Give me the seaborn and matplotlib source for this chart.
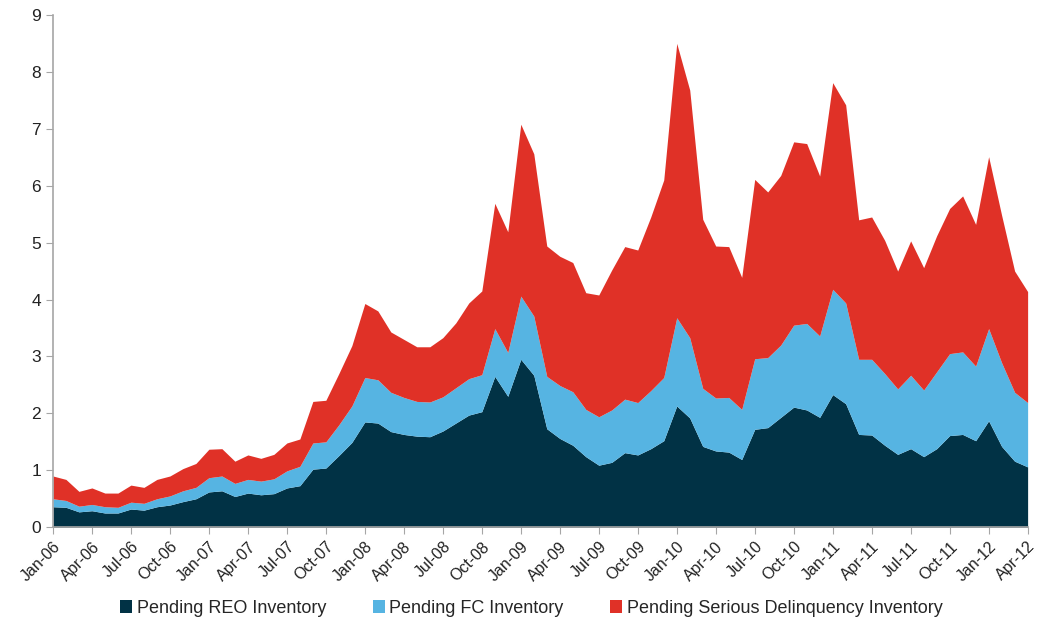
import numpy as np
import pandas as pd
import matplotlib
matplotlib.use("Agg")
import matplotlib.pyplot as plt
import seaborn as sns

# monthly values, Jan-06 .. Apr-12
months = pd.date_range("2006-01-01", "2012-04-01", freq="MS")

reo = [0.36, 0.35, 0.27, 0.29, 0.25, 0.25, 0.32, 0.30, 0.36, 0.39, 0.45, 0.50,
       0.62, 0.64, 0.54, 0.60, 0.57, 0.59, 0.69, 0.73, 1.02, 1.04, 1.26, 1.49,
       1.85, 1.83, 1.68, 1.63, 1.60, 1.59, 1.69, 1.83, 1.97, 2.03, 2.65, 2.30,
       2.95, 2.67, 1.73, 1.56, 1.44, 1.24, 1.09, 1.14, 1.31, 1.27, 1.38, 1.52,
       2.13, 1.92, 1.42, 1.34, 1.32, 1.19, 1.72, 1.75, 1.93, 2.11, 2.06, 1.93,
       2.33, 2.17, 1.63, 1.62, 1.44, 1.28, 1.38, 1.24, 1.38, 1.61, 1.63, 1.52,
       1.87, 1.42, 1.16, 1.06]

fc = [0.14, 0.12, 0.10, 0.11, 0.11, 0.10, 0.12, 0.12, 0.14, 0.16, 0.19, 0.20,
      0.25, 0.26, 0.23, 0.24, 0.24, 0.26, 0.30, 0.34, 0.46, 0.46, 0.54, 0.64,
      0.78, 0.76, 0.69, 0.65, 0.61, 0.61, 0.60, 0.62, 0.64, 0.65, 0.84, 0.77,
      1.11, 1.04, 0.92, 0.93, 0.94, 0.83, 0.85, 0.92, 0.94, 0.92, 1.02, 1.11,
      1.55, 1.41, 1.02, 0.93, 0.96, 0.88, 1.24, 1.23, 1.27, 1.44, 1.52, 1.43,
      1.85, 1.77, 1.32, 1.33, 1.26, 1.15, 1.29, 1.17, 1.35, 1.44, 1.45, 1.31,
      1.62, 1.47, 1.21, 1.13]

sdq = [0.40, 0.37, 0.26, 0.29, 0.24, 0.25, 0.30, 0.28, 0.34, 0.35, 0.39, 0.42,
       0.50, 0.48, 0.39, 0.43, 0.40, 0.43, 0.49, 0.48, 0.73, 0.73, 0.90, 1.06,
       1.30, 1.21, 1.06, 1.02, 0.96, 0.97, 1.04, 1.14, 1.33, 1.47, 2.20, 2.12,
       3.02, 2.85, 2.29, 2.27, 2.27, 2.05, 2.14, 2.46, 2.68, 2.68, 3.05, 3.47,
       4.82, 4.35, 2.97, 2.67, 2.65, 2.32, 3.15, 2.91, 2.98, 3.22, 3.16, 2.81,
       3.63, 3.48, 2.45, 2.50, 2.34, 2.07, 2.36, 2.15, 2.39, 2.55, 2.74, 2.49,
       3.02, 2.59, 2.13, 1.95]

series_names = ["Pending REO Inventory", "Pending FC Inventory",
                "Pending Serious Delinquency Inventory"]
colors = ["#013245", "#56B4E2", "#E03127"]

df = pd.DataFrame({series_names[0]: reo, series_names[1]: fc,
                   series_names[2]: sdq}, index=months)

sns.set_style("white")
plt.rcParams["font.family"] = ["Liberation Sans", "DejaVu Sans"]

fig = plt.figure(figsize=(10.38, 6.21), dpi=100)
ax = fig.add_axes([0.051, 0.151, 0.939, 0.825])

x = np.arange(len(df))
ax.stackplot(x, df.T.values, colors=colors, labels=series_names, linewidth=0)

ax.set_xlim(0, len(df) - 1)
ax.set_ylim(0, 9)
ax.set_yticks(range(0, 10))
tick_idx = np.arange(0, len(df), 3)
ax.set_xticks(tick_idx)
ax.set_xticklabels([months[i].strftime("%b-%y") for i in tick_idx],
                   rotation=45, ha="right", rotation_mode="anchor")

sns.despine(ax=ax)
for s in ["left", "bottom"]:
    ax.spines[s].set_color("#a6a6a6")
    ax.spines[s].set_linewidth(1.2)
ax.tick_params(axis="both", which="major", direction="out", length=5,
               color="#a6a6a6", labelsize=12.5, labelcolor="#222222",
               bottom=True, left=True)
ax.tick_params(axis="x", labelsize=11.5)

handles, labels = ax.get_legend_handles_labels()
fig.legend(handles, labels, loc="lower center", ncol=3, frameon=False,
           fontsize=13, bbox_to_anchor=(0.512, -0.02), handlelength=0.65,
           handleheight=0.75, handletextpad=0.25, columnspacing=2.6)

fig.savefig("out.png", dpi=100)
